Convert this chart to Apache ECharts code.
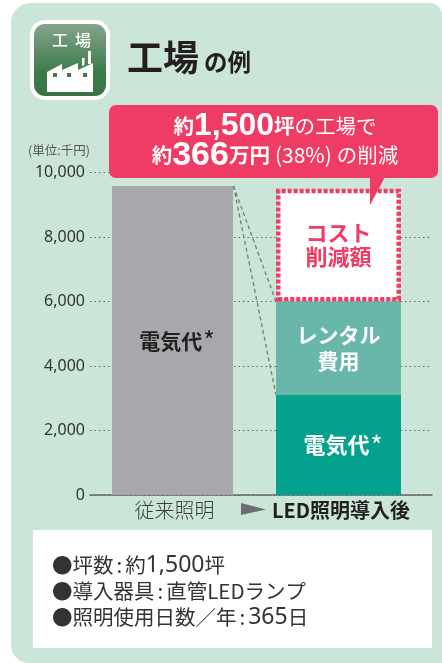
<!DOCTYPE html>
<html>
<head>
<meta charset="utf-8">
<style>
  html, body { margin: 0; padding: 0; background: #fff; }
  #chart { width: 442px; height: 663px; }
</style>
<script src="https://cdn.jsdelivr.net/npm/echarts@6/dist/echarts.min.js"></script>
</head>
<body>
<div id="chart"></div>
<script>
  // グラフの値（単位:千円）
  const categories = ['従来照明', 'LED照明導入後']
  const beforeElectric = [9580, null]
  const afterElectric = [null, 3100]
  const afterRental = [null, 2900]
  const afterSaving = [null, 3500]
  const yTicks = [0, 2000, 4000, 6000, 8000, 10000]

  const electricLabel = '電気代'
  const rentalLabel = 'レンタル\n費用'
  const savingLabel = 'コスト\n削減額'
  const infoLines = ['●坪数:約1,500坪', '●導入器具:直管LEDランプ', '●照明使用日数／年:365日']

  const jp = '"Noto Sans CJK JP", "Noto Sans", sans-serif'
  const pink = '#ef3c64'
  const chart = echarts.init(document.getElementById('chart'))

  const text = (x, y, t, size, color, weight, extra) => ({
    type: 'text', x, y, z: 12,
    style: Object.assign({ text: t, fontSize: size, fontWeight: weight || 400, fontFamily: jp, fill: color, textVerticalAlign: 'middle' }, extra)
  })

  // 箇条書き: 数字とコロンだけ字幅を広げる
  const infoText = (y, line) => text(52, y,
    line.replace(/[\d,]+/g, m => '{d|' + m + '}').replace(':', '{c|:}'),
    20.5, '#333', 400, {
      rich: {
        d: { fontSize: 23, fontFamily: '"Noto Sans", sans-serif', fill: '#333' },
        c: { fontSize: 20.5, fontFamily: jp, fill: '#333', padding: [0, 3, 0, 3] }
      }
    })

  // 背景・アイコン・吹き出し
  const decoration = [
    { type: 'rect', z: -5, shape: { x: 11, y: 3, width: 431, height: 660, r: [20, 12, 0, 18] }, style: { fill: '#cbe6d9' } },
    { type: 'rect', z: -4, shape: { x: 30, y: 20, width: 80, height: 80, r: 15 }, style: { fill: '#fff' } },
    { type: 'rect', z: -3, shape: { x: 34, y: 24, width: 72, height: 72, r: 11 }, style: {
      fill: new echarts.graphic.LinearGradient(0, 0, 0, 1, [
        { offset: 0, color: '#84a48b' }, { offset: 0.65, color: '#3f7c4d' }, { offset: 1, color: '#367445' }
      ]) } },
    text(52, 40, '工', 16, '#fff', 500),
    text(75, 40, '場', 16, '#fff', 500),
    { type: 'polygon', z: 3, shape: { points: [[47, 92], [47, 72], [62, 64], [62, 70], [78, 63], [78, 70], [93, 63], [93, 92]] }, style: { fill: '#fff' } },
    { type: 'polygon', z: 3, shape: { points: [[82, 66], [82, 58], [84.5, 58], [84.5, 65]] }, style: { fill: '#fff' } },
    { type: 'polygon', z: 3, shape: { points: [[88, 64], [88, 51], [91, 51], [91, 64]] }, style: { fill: '#fff' } },
    { type: 'rect', z: 4, shape: { x: 53, y: 73, width: 4, height: 4 }, style: { fill: '#3f7c4d' } },
    { type: 'rect', z: 4, shape: { x: 67, y: 73, width: 4, height: 4 }, style: { fill: '#3f7c4d' } },
    { type: 'rect', z: 4, shape: { x: 83, y: 73, width: 4, height: 4 }, style: { fill: '#3f7c4d' } },
    text(127, 57, '工場', 36, '#231f20', 700),
    text(204, 62, 'の例', 23.5, '#231f20', 700),
    { type: 'rect', z: 10, shape: { x: 109, y: 105, width: 329, height: 73, r: 7 }, style: { fill: pink } },
    { type: 'polygon', z: 10, shape: { points: [[370, 177], [385, 177], [370, 205]] }, style: { fill: pink } },
    {
      type: 'text', z: 12, x: 275, y: 141,
      style: {
        text: '{b|約}{n|1,500}{b|坪}{r|の工場で}\n{b|約}{m|366}{b|万円}{p|(38%)}{r|の削減}',
        align: 'center', verticalAlign: 'middle', fill: '#fff', fontFamily: jp,
        rich: {
          b: { fontSize: 20.5, fontWeight: 700, fill: '#fff', fontFamily: jp, lineHeight: 29 },
          n: { fontSize: 32, fontWeight: 700, fill: '#fff', fontFamily: '"Liberation Sans", sans-serif', lineHeight: 29 },
          m: { fontSize: 34, fontWeight: 700, fill: '#fff', fontFamily: '"Liberation Sans", sans-serif', lineHeight: 29 },
          r: { fontSize: 20.5, fontWeight: 400, fill: '#fff', fontFamily: jp, lineHeight: 29 },
          p: { fontSize: 21, fontWeight: 400, fill: '#fff', fontFamily: jp, lineHeight: 29, padding: [0, 5, 0, 5] }
        }
      }
    },
    { type: 'rect', z: 9, shape: { x: 33, y: 530, width: 399, height: 118 }, style: { fill: '#fff' } },
    infoText(565, infoLines[0]),
    infoText(591, infoLines[1]),
    infoText(617, infoLines[2]),
    { type: 'polygon', z: 8, shape: { points: [[241, 503], [266, 509.5], [241, 515]] }, style: { fill: '#6d6e71' } }
  ]

  // 「電気代*」は * だけ細く大きめ
  const starLabel = (color, size) => ({
    show: true, position: 'inside',
    formatter: '{t|' + electricLabel + '}{s|*}',
    rich: {
      t: { fontSize: size, fontWeight: 700, color, fontFamily: jp, padding: [0, 0, 0, 9] },
      s: { fontSize: size + 4, fontWeight: 400, color, fontFamily: jp, padding: [0, 0, 0, 1] }
    }
  })

  const option = {
    animation: false,
    textStyle: { fontFamily: jp },
    grid: [
      { left: 90, right: 10, top: 172.5, bottom: 168 },
      { left: 92.5, right: 21.5, top: 172.5, bottom: 168 }
    ],
    xAxis: [
      {
        type: 'category', gridIndex: 0, data: ['', ''],
        axisLine: { lineStyle: { color: '#666', width: 1.5 } },
        axisTick: { show: false }, axisLabel: { show: false }
      },
      {
        type: 'category', gridIndex: 1, data: categories,
        axisLine: { show: false }, axisTick: { show: false },
        axisLabel: {
          margin: 5,
          fontFamily: jp,
          formatter: (v, i) => i === 0 ? '{a|' + v + '}' : '{b|' + v + '}',
          rich: {
            a: { fontSize: 20, color: '#3c3c3c', fontWeight: 300, fontFamily: jp },
            b: { fontSize: 20, color: '#231f20', fontWeight: 700, fontFamily: jp, padding: [0, 0, 0, 5] }
          }
        }
      }
    ],
    yAxis: [
      {
        type: 'value', gridIndex: 0, min: 0, max: 10000, interval: 2000,
        name: '(単位:千円)', nameLocation: 'end', nameGap: 16,
        nameTextStyle: { fontSize: 12.5, color: '#555', fontFamily: jp, align: 'right', padding: [0, 0, 0, 0] },
        axisLine: { show: false }, axisTick: { show: false },
        axisLabel: {
          margin: 5, fontSize: 16, color: '#333', fontFamily: '"Noto Sans", sans-serif',
          customValues: yTicks,
          formatter: v => v.toLocaleString('en-US')
        },
        splitLine: { lineStyle: { color: '#666', type: [1.5, 3], width: 1 } }
      },
      {
        type: 'value', gridIndex: 1, min: 0, max: 10000, interval: 2000,
        axisLine: { show: false }, axisTick: { show: false },
        axisLabel: { show: false }, splitLine: { show: false }
      }
    ],
    series: [
      {
        name: '従来', type: 'bar', xAxisIndex: 1, yAxisIndex: 1, stack: 'before', barWidth: 121, barGap: '-100%',
        data: beforeElectric, itemStyle: { color: '#a7a8ab' },
        label: starLabel('#231f20', 21)
      },
      {
        name: '電気代', type: 'bar', xAxisIndex: 1, yAxisIndex: 1, stack: 'after', barWidth: 125,
        data: afterElectric, itemStyle: { color: '#04a18f' },
        label: starLabel('#fff', 22)
      },
      {
        name: 'レンタル費用', type: 'bar', xAxisIndex: 1, yAxisIndex: 1, stack: 'after', barWidth: 125,
        data: afterRental, itemStyle: { color: '#69b7ab' },
        label: { show: true, position: 'inside', formatter: rentalLabel, fontSize: 21, lineHeight: 26, fontWeight: 700, color: '#fff', fontFamily: jp }
      },
      {
        name: '削減額', type: 'bar', xAxisIndex: 1, yAxisIndex: 1, stack: 'after', barWidth: 125,
        data: afterSaving,
        itemStyle: { color: '#fff', borderColor: pink, borderWidth: 4.5, borderType: [4, 2] },
        label: { show: true, position: 'inside', formatter: savingLabel, fontSize: 22, lineHeight: 24, fontWeight: 700, color: pink, fontFamily: jp }
      }
    ],
    graphic: decoration
  }
  chart.setOption(option)

  // 従来照明の棒の上端から LED 側へ点線をつなぐ
  const yPx = v => chart.convertToPixel({ yAxisIndex: 1 }, v)
  const xLeft = 233.5
  const xRight = 276
  const leader = (toValue) => ({
    type: 'line', z: 1,
    shape: { x1: xLeft, y1: yPx(beforeElectric[0]), x2: xRight, y2: yPx(toValue) },
    style: { stroke: '#77787b', lineWidth: 1.3, lineDash: [4, 3] }
  })
  chart.setOption({
    graphic: decoration.concat([
      leader(afterElectric[1] + afterRental[1]),
      leader(afterElectric[1])
    ])
  })
</script>
</body>
</html>
